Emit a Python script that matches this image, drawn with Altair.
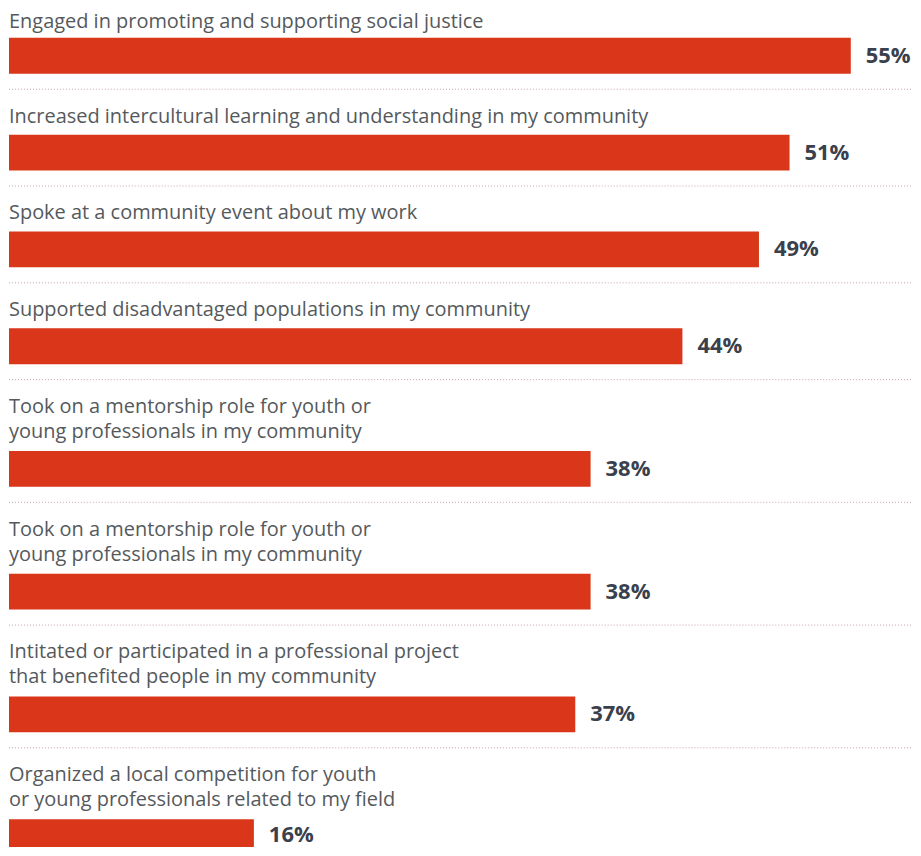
import altair as alt
import pandas as pd

categories = [
    "Engaged in promoting and supporting social justice",
    "Increased intercultural learning and understanding in my community",
    "Spoke at a community event about my work",
    "Supported disadvantaged populations in my community",
    "Took on a mentorship role for youth or\nyoung professionals in my community",
    "Took on a mentorship role for youth or\nyoung professionals in my community",
    "Intitated or participated in a professional project\nthat benefited people in my community",
    "Organized a local competition for youth\nor young professionals related to my field",
]
values = [55, 51, 49, 44, 38, 38, 37, 16]
value_labels = ["55%", "51%", "49%", "44%", "38%", "38%", "37%", "16%"]

BAR_COLOR = "#D9361A"
LABEL_COLOR = "#55595c"
VALUE_COLOR = "#3a404c"
RULE_COLOR = "#c9a3a3"
FONT = "Open Sans"
W = 905
XMAX = 59.0
TOTAL_H = 840

xscale = alt.Scale(domain=[0, XMAX], nice=False, zero=True)

panels = []
used = 0
for i, (cat, val, vl) in enumerate(zip(categories, values, value_labels)):
    lines = cat.split("\n")
    n = len(lines)
    top = -16 if i == 0 else 0
    bar_top = top + 45 + 26 * (n - 1)
    bar_bot = bar_top + 36
    sep = bar_bot + 16
    last = i == len(categories) - 1
    height = (TOTAL_H - used) if last else sep
    used += height
    label_top = 13 if i == 0 else 27
    value_y = min((bar_top + bar_bot) / 2, height - 12)

    df = pd.DataFrame({"category": [cat], "value": [val], "label": [vl]})
    base = alt.Chart(df)

    layers = []
    for k, line in enumerate(lines):
        ldf = pd.DataFrame({"line": [line]})
        layers.append(
            alt.Chart(ldf).mark_text(
                align="left", baseline="middle", font=FONT, fontSize=20,
                color=LABEL_COLOR,
            ).encode(
                x=alt.value(0),
                y=alt.value(label_top + 25 * k),
                text="line:N",
            )
        )
    layers.append(
        base.mark_bar(color=BAR_COLOR, clip=True).encode(
            x=alt.X("value:Q", scale=xscale, axis=None),
            x2=alt.datum(0),
            y=alt.value(bar_top),
            y2=alt.value(bar_bot),
        )
    )
    layers.append(
        base.mark_text(
            align="left", baseline="middle", dx=15, font=FONT, fontSize=22,
            fontWeight="bold", color=VALUE_COLOR, clip=True,
        ).encode(
            x=alt.X("value:Q", scale=xscale, axis=None),
            y=alt.value(value_y),
            text="label:N",
        )
    )
    if not last:
        layers.append(
            base.mark_rule(color=RULE_COLOR, strokeDash=[1, 2], strokeWidth=1).encode(
                x=alt.value(0), x2=alt.value(W), y=alt.value(sep - 0.5),
            )
        )
    panels.append(alt.layer(*layers).properties(width=W, height=height))

chart = alt.vconcat(*panels, spacing=0).properties(padding=0).configure_view(
    stroke=None
).configure_concat(spacing=0)

chart.save("out.html", embed_options={"renderer": "svg", "actions": False})
